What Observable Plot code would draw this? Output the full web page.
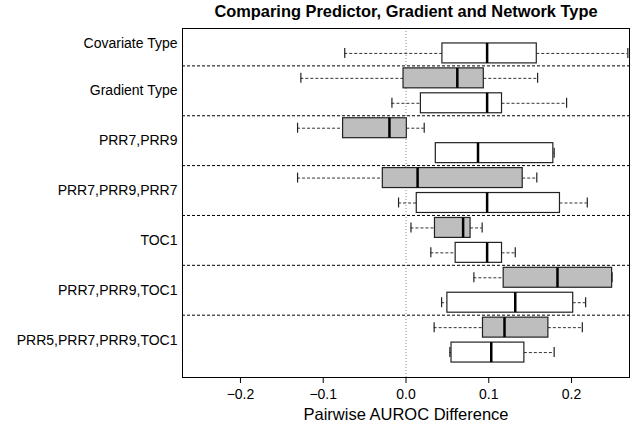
<!DOCTYPE html>
<html>
<head>
<meta charset="utf-8">
<script src="https://cdn.jsdelivr.net/npm/d3@7"></script>
<script src="https://cdn.jsdelivr.net/npm/@observablehq/plot@0.6"></script>
<style>
  body { margin: 0; background: #fff; }
  #chart svg { display: block; }
</style>
</head>
<body>
<div id="chart"></div>
<script>
// ---- data ----
const title = "Comparing Predictor, Gradient and Network Type";
const xLabel = "Pairwise AUROC Difference";
const xTicks = [-0.2, -0.1, 0, 0.1, 0.2];

const groupLabels = ["Covariate Type", "Gradient Type", "PRR7,PRR9", "PRR7,PRR9,PRR7", "TOC1", "PRR7,PRR9,TOC1", "PRR5,PRR7,PRR9,TOC1"];
const groupLabelPos = [0.6, 2.5, 4.5, 6.5, 8.5, 10.5, 12.5];
const separatorPos = [1.5, 3.5, 5.5, 7.5, 9.5, 11.5];

// one entry per box, top to bottom
const boxPos     = [1, 2, 3, 4, 5, 6, 7, 8, 9, 10, 11, 12, 13];
const boxKind    = ["B", "A", "B", "A", "B", "A", "B", "A", "B", "A", "B", "A", "B"];
const whiskerLow = [-0.074, -0.127, -0.017, -0.131, 0.036, -0.131, -0.009, 0.006, 0.030, 0.082, 0.043, 0.034, 0.053];
const q1         = [ 0.044, -0.003,  0.018, -0.076, 0.036, -0.028,  0.013, 0.035, 0.060, 0.118, 0.050, 0.093, 0.055];
const median     = [ 0.098,  0.062,  0.098, -0.020, 0.087,  0.014,  0.098, 0.069, 0.098, 0.183, 0.132, 0.119, 0.103];
const q3         = [ 0.158,  0.094,  0.116,  0.001, 0.178,  0.141,  0.186, 0.078, 0.116, 0.249, 0.202, 0.172, 0.143];
const whiskerHigh= [ 0.268,  0.159,  0.194,  0.022, 0.179,  0.158,  0.219, 0.092, 0.132, 0.249, 0.217, 0.213, 0.179];

const boxes = boxPos.map((p, i) => ({
  pos: p, kind: boxKind[i],
  lo: whiskerLow[i], q1: q1[i], med: median[i], q3: q3[i], hi: whiskerHigh[i]
}));
const labels = groupLabels.map((g, i) => ({label: g, pos: groupLabelPos[i]}));

const font = '"Liberation Sans", Arial, Helvetica, sans-serif';
const half = 0.4, staple = 0.2;

const chart = Plot.plot({
  width: 638,
  height: 425,
  marginLeft: 182,
  marginRight: 9,
  marginTop: 28,
  marginBottom: 48,
  style: {fontFamily: font, fontSize: "14px", color: "black", background: "white"},
  x: {domain: [-0.27, 0.27], ticks: xTicks, tickFormat: d3.format(".1f"), label: null, tickSize: 6, tickPadding: 6},
  y: {domain: [0, 14], reverse: true, axis: null},
  color: {domain: ["A", "B"], range: ["#bebebe", "white"]},
  marks: [
    Plot.ruleX([0], {stroke: "#8a8a8a", strokeDasharray: "1,2", strokeWidth: 1}),
    Plot.ruleY(separatorPos, {stroke: "black", strokeDasharray: "3,2", strokeWidth: 1}),
    // whiskers
    Plot.ruleY(boxes, {y: "pos", x1: "lo", x2: "q1", stroke: "#333", strokeDasharray: "3,2", strokeWidth: 1}),
    Plot.ruleY(boxes, {y: "pos", x1: "q3", x2: "hi", stroke: "#333", strokeDasharray: "3,2", strokeWidth: 1}),
    // staples
    Plot.ruleX(boxes, {x: "lo", y1: d => d.pos - staple, y2: d => d.pos + staple, stroke: "#222", strokeWidth: 1.2}),
    Plot.ruleX(boxes, {x: "hi", y1: d => d.pos - staple, y2: d => d.pos + staple, stroke: "#222", strokeWidth: 1.2}),
    // boxes
    Plot.rect(boxes, {x1: "q1", x2: "q3", y1: d => d.pos - half, y2: d => d.pos + half, fill: "kind", stroke: "#222", strokeWidth: 1.2}),
    // medians
    Plot.ruleX(boxes, {x: "med", y1: d => d.pos - half, y2: d => d.pos + half, stroke: "black", strokeWidth: 2.5}),
    Plot.frame({stroke: "black", strokeWidth: 1}),
    // group labels
    Plot.text(labels, {y: "pos", text: "label", frameAnchor: "left", textAnchor: "end", dx: -5, fontSize: 14, fill: "black"}),
    // title
    Plot.text([title], {frameAnchor: "top", dy: -12, lineAnchor: "bottom", fontSize: 16.4, fontWeight: "bold", fill: "black"}),
    // x label
    Plot.text([xLabel], {frameAnchor: "bottom", dy: 42, lineAnchor: "bottom", fontSize: 16.5, fill: "black"})
  ]
});
document.getElementById("chart").appendChild(chart);
</script>
</body>
</html>
